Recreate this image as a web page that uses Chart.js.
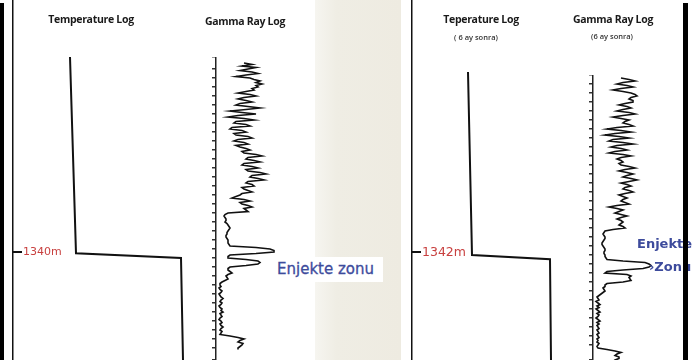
<!DOCTYPE html>
<html>
<head>
<meta charset="utf-8">
<script src="https://cdn.jsdelivr.net/npm/chart.js@4/dist/chart.umd.min.js"></script>
<style>
  body { margin: 0; width: 696px; height: 360px; overflow: hidden; background: #fff; position: relative; font-family: "Open Sans", sans-serif; }
  .abs { position: absolute; }
  .title { position: absolute; transform: translateX(-50%); white-space: nowrap; font-weight: 700; font-size: 10.5px; color: #1a1a1a; letter-spacing: -0.3px; }
  .sub { position: absolute; transform: translateX(-50%); white-space: nowrap; font-size: 7.5px; font-weight: 600; color: #333; }
  .zone { position: absolute; font-family: "DejaVu Sans", sans-serif; font-size: 15px; color: #3d4b9c; white-space: nowrap; }
</style>
</head>
<body>
<div class="abs" style="left:315px;top:0;width:86px;height:360px;background:linear-gradient(90deg,#f6f5f0,#efede4 25%,#eeebe1);"></div>

<div class="abs" style="left:0;top:0"><canvas id="tempL" width="213" height="360"></canvas></div>
<div class="abs" style="left:210px;top:57px"><canvas id="grL" width="81" height="303"></canvas></div>
<div class="abs" style="left:399px;top:0"><canvas id="tempR" width="213" height="360"></canvas></div>
<div class="abs" style="left:587px;top:75px"><canvas id="grR" width="81" height="285"></canvas></div>

<div class="title" style="left:91px;top:12px">Temperature Log</div>
<div class="title" style="left:245px;top:14px">Gamma Ray Log</div>
<div class="title" style="left:481px;top:12px">Teperature Log</div>
<div class="sub" style="left:476px;top:32px">( 6 ay sonra)</div>
<div class="title" style="left:613px;top:12px">Gamma Ray Log</div>
<div class="sub" style="left:612px;top:31px">(6 ay sonra)</div>

<div class="zone" style="left:274px;top:257px;width:109px;height:25px;background:#fff;line-height:24px;padding-left:3px;box-sizing:border-box;-webkit-text-stroke:0.3px #3d4b9c">Enjekte zonu</div>
<div class="zone" style="left:637px;top:236px;font-weight:bold;font-size:13px">Enjekte</div>
<div class="zone" style="left:649px;top:259px;font-weight:bold;font-size:13px">›Zonu</div>

<div class="abs" style="left:0;top:3px;width:4px;height:357px;background:#000"></div>
<div class="abs" style="left:683px;top:3px;width:5px;height:357px;background:#000"></div>

<script>
// temperature logs: depth (m) and temperature (deg C)
const tempDepthLeft = [1307.5, 1340.2, 1341.0, 1358];
const tempLeft = [34.25, 35.75, 62, 62.5];
const tempDepthRight = [1312, 1342.5, 1343.2, 1360];
const tempRight = [34, 35, 54.5, 54.75];

// marked depths
const markLeft = 1340;
const markRight = 1342;

// gamma ray logs (API), sampled every 0.25 m from the start depth
const grStep = 0.25;
const grStartLeft = 1308.5;
const gammaLeft = [
  28, 36, 26, 40, 32, 24, 36, 42, 30, 20,
  34, 38, 44, 40, 46, 40, 42, 36, 38, 30,
  22, 34, 40, 28, 22, 30, 36, 24, 20, 32,
  44, 30, 14, 26, 40, 22, 12, 28, 38, 20,
  18, 30, 34, 16, 14, 26, 30, 18, 20, 32,
  36, 22, 18, 28, 32, 20, 24, 30, 34, 26,
  28, 40, 46, 32, 30, 38, 44, 28, 26, 36,
  42, 30, 32, 44, 50, 36, 34, 42, 48, 32,
  30, 36, 38, 26, 28, 32, 36, 26, 24, 20,
  16, 28, 34, 24, 26, 32, 36, 28, 30, 32,
  12,
  9, 8, 9, 10, 10, 9, 11, 12, 13, 14,
  13, 12, 11, 11, 10, 10, 11, 12, 12, 12,
  13, 14, 40, 54, 58, 58, 40, 14, 12, 12,
  30, 42, 44, 42, 30, 14, 12, 12, 14, 16,
  12, 10, 11, 12, 9, 6, 4, 4, 5, 3,
  4, 6, 5, 3, 4, 5, 7, 5, 4, 6,
  5, 3, 4, 6, 5, 7, 4, 5, 6, 4,
  3, 5, 6, 4, 5, 7, 5, 4, 6, 5,
  4, 14, 22, 28, 24, 22, 27, 26, 24, 22,
  22];
const grStartRight = 1313;
const gammaRight = [
  28, 36, 42, 30, 24, 34, 40, 28, 20, 30,
  38, 42, 44, 38, 36, 40, 40, 32, 26, 34,
  38, 30, 24, 36, 42, 30, 20, 28, 36, 32,
  30, 36, 40, 24, 14, 28, 38, 22, 12, 26,
  36, 20, 16, 30, 40, 24, 18, 28, 34, 22,
  16, 30, 38, 28, 24, 28, 30, 26, 28, 36,
  42, 32, 26, 34, 40, 34, 30, 38, 44, 36,
  28, 34, 38, 32, 30, 36, 40, 32, 26, 30,
  34, 30, 28, 32, 36, 24, 16, 24, 30, 26,
  22, 28, 34, 28, 24, 28, 30, 28, 26, 30,
  32,
  20, 12, 11, 10, 11, 12, 12, 11, 10, 9,
  9, 10, 11, 12, 12, 11, 11, 12, 12, 13,
  14, 30, 52, 56, 58, 56, 50, 30, 14, 12,
  34, 38, 36, 37, 38, 30, 14, 12, 12, 10,
  11, 12, 10, 8, 6, 4, 5, 6, 3, 5,
  7, 4, 6, 3, 5, 7, 4, 6, 5, 3,
  5, 7, 4, 6, 4, 5, 6, 4, 5, 6,
  4, 5, 6, 4, 5, 4, 6, 5, 4, 5,
  14, 22, 28, 24, 22, 26, 26, 22, 20, 22];

const depthMarker = {
  id: 'depthMarker',
  afterDraw(chart, args, opts) {
    if (!opts.value) return;
    const ctx = chart.ctx;
    const y = chart.scales.y.getPixelForValue(opts.value);
    const x = chart.chartArea.left;
    ctx.save();
    ctx.strokeStyle = '#111';
    ctx.lineWidth = 2;
    ctx.beginPath();
    ctx.moveTo(x, y);
    ctx.lineTo(x + 9, y);
    ctx.stroke();
    ctx.fillStyle = '#c8403f';
    ctx.font = opts.font;
    ctx.textBaseline = 'middle';
    ctx.fillText(opts.value + 'm', x + 10, y + 0.5);
    ctx.restore();
  }
};

function tempChart(id, depth, temp, dmin, dmax, mark, font) {
  return new Chart(document.getElementById(id), {
    type: 'scatter',
    data: {
      datasets: [{
        data: depth.map((d, i) => ({ x: temp[i], y: d })),
        showLine: true,
        borderColor: '#111',
        borderWidth: 2,
        pointRadius: 0
      }]
    },
    options: {
      responsive: false,
      animation: false,
      events: [],
      layout: { padding: 0 },
      plugins: {
        legend: { display: false },
        tooltip: { enabled: false },
        depthMarker: { value: mark, font: font }
      },
      scales: {
        x: { type: 'linear', min: 20, max: 70, display: false },
        y: {
          type: 'linear', reverse: true, min: dmin, max: dmax,
          ticks: { display: false },
          grid: { display: false },
          border: { display: true, color: '#111', width: 1.5 },
          afterFit(s) { s.width = 13; }
        }
      }
    },
    plugins: [depthMarker]
  });
}

function grChart(id, values, start, dmin, dmax) {
  return new Chart(document.getElementById(id), {
    type: 'scatter',
    data: {
      datasets: [{
        data: values.map((v, i) => ({ x: v, y: start + i * grStep })),
        showLine: true,
        borderColor: '#111',
        borderWidth: 1.6,
        pointRadius: 0
      }]
    },
    options: {
      responsive: false,
      animation: false,
      events: [],
      layout: { padding: 0 },
      plugins: { legend: { display: false }, tooltip: { enabled: false } },
      scales: {
        x: { type: 'linear', min: 0, max: 75, display: false },
        y: {
          type: 'linear', reverse: true, min: dmin, max: dmax,
          ticks: { display: false, stepSize: 1.5, autoSkip: false, maxTicksLimit: 200 },
          grid: { drawOnChartArea: false, drawTicks: true, tickLength: 4, color: '#333', lineWidth: 1.5 },
          border: { display: true, color: '#222', width: 1.5 },
          afterFit(s) { s.width = 6; }
        }
      }
    }
  });
}

tempChart('tempL', tempDepthLeft, tempLeft, 1298, 1358, markLeft, '11px "DejaVu Sans"');
tempChart('tempR', tempDepthRight, tempRight, 1300, 1360, markRight, '12.5px "DejaVu Sans"');
grChart('grL', gammaLeft, grStartLeft, 1307.5, 1358);
grChart('grR', gammaRight, grStartRight, 1312.5, 1360);
</script>
</body>
</html>
